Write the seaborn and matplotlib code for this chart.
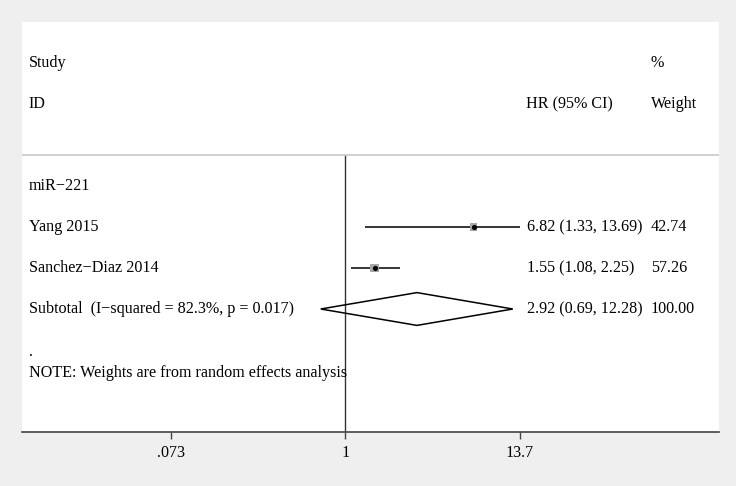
import numpy as np
import matplotlib
matplotlib.use("Agg")
import matplotlib.pyplot as plt
import matplotlib.transforms as mtransforms
import seaborn as sns
import pandas as pd

# study data
studies = ["Yang 2015", "Sanchez\u2212Diaz 2014"]
hr = [6.82, 1.55]
ci_low = [1.33, 1.08]
ci_high = [13.69, 2.25]
weights = [42.74, 57.26]
ci_text = ["6.82 (1.33, 13.69)", "1.55 (1.08, 2.25)"]
weight_text = ["42.74", "57.26"]

group_label = "miR\u2212221"
sub_label = "Subtotal  (I\u2212squared = 82.3%, p = 0.017)"
sub_hr, sub_low, sub_high = 2.92, 0.69, 12.28
sub_ci_text = "2.92 (0.69, 12.28)"
sub_weight_text = "100.00"
note = "NOTE: Weights are from random effects analysis"

tick_vals = [0.073, 1, 13.7]
tick_labels = [".073", "1", "13.7"]

sns.set_style("white")
plt.rcParams['font.family'] = ['Liberation Serif', 'DejaVu Serif']
plt.rcParams['font.size'] = 11.6
plt.rcParams['text.color'] = 'black'
plt.rcParams['xtick.color'] = 'black'

fig = plt.figure(figsize=(7.36, 4.86), dpi=100, facecolor="#efefef")
ax = fig.add_axes([22 / 736, 54 / 486, 697 / 736, 410 / 486])
ax.set_facecolor("white")

ax.set_xscale("log")
ax.set_xlim(np.exp(-4.85), np.exp(5.60))
ax.set_ylim(9, -1)

# rows: 0 Study, 1 ID, 3 group, 4-5 studies, 6 subtotal, 7 "."
rows = [4, 5]
df = pd.DataFrame({"hr": hr, "row": rows, "w": weights})

# CI lines
ax.hlines(rows, ci_low, ci_high, color="black", lw=1.1, zorder=2)
# weight boxes (small gray squares) then point estimates
ax.scatter(hr, rows, s=[w * 0.7 for w in weights], marker="s",
           color="#a8a8a8", zorder=3, linewidths=0)
sns.scatterplot(data=df, x="hr", y="row", color="black", s=14,
                linewidth=0, zorder=4, ax=ax, legend=False)

# subtotal diamond
dh = 0.4
ax.fill([sub_low, sub_hr, sub_high, sub_hr, sub_low],
        [6, 6 - dh, 6, 6 + dh, 6], facecolor="none",
        edgecolor="black", lw=1.1, zorder=3)

# reference line at 1 and header separator
sep_y = 2.24
ax.vlines(1, sep_y, 9, color="#333333", lw=1.0, zorder=1)
ax.axhline(sep_y, color="#c8c8c8", lw=1.2, zorder=1)

# text columns
tr = mtransforms.blended_transform_factory(ax.transAxes, ax.transData)
xl, xci, xw, xhr = 0.010, 0.7245, 0.902, 0.848
ax.text(xl, 0, "Study", transform=tr, va="center")
ax.text(xl, 1, "ID", transform=tr, va="center")
ax.text(xhr, 1, "HR (95% CI)", transform=tr, va="center", ha="right")
ax.text(xw, 0, "%", transform=tr, va="center")
ax.text(xw, 1, "Weight", transform=tr, va="center")
ax.text(xl, 3, group_label, transform=tr, va="center")
for s, r, c, w in zip(studies, rows, ci_text, weight_text):
    ax.text(xl, r, s, transform=tr, va="center")
    ax.text(xci, r, c, transform=tr, va="center")
    ax.text(xw, r, w, transform=tr, va="center")
ax.text(xl, 6, sub_label, transform=tr, va="center")
ax.text(xci, 6, sub_ci_text, transform=tr, va="center")
ax.text(xw, 6, sub_weight_text, transform=tr, va="center")
ax.text(xl, 7.05, ".", transform=tr, va="center")
ax.text(xl, 7.55, note, transform=tr, va="center")

# axis
for side in ["top", "right", "left"]:
    ax.spines[side].set_visible(False)
ax.spines["bottom"].set_color("#444444")
ax.spines["bottom"].set_linewidth(1.2)
ax.set_yticks([])
ax.set_xticks(tick_vals)
ax.set_xticklabels(tick_labels)
ax.xaxis.set_minor_locator(matplotlib.ticker.NullLocator())
ax.tick_params(axis="x", direction="out", length=5, width=1, color="#444444",
               labelsize=11.6, labelcolor="black", pad=4, bottom=True)
ax.set_xlabel("")
ax.set_ylabel("")

fig.savefig("out.png", dpi=100, facecolor=fig.get_facecolor())
